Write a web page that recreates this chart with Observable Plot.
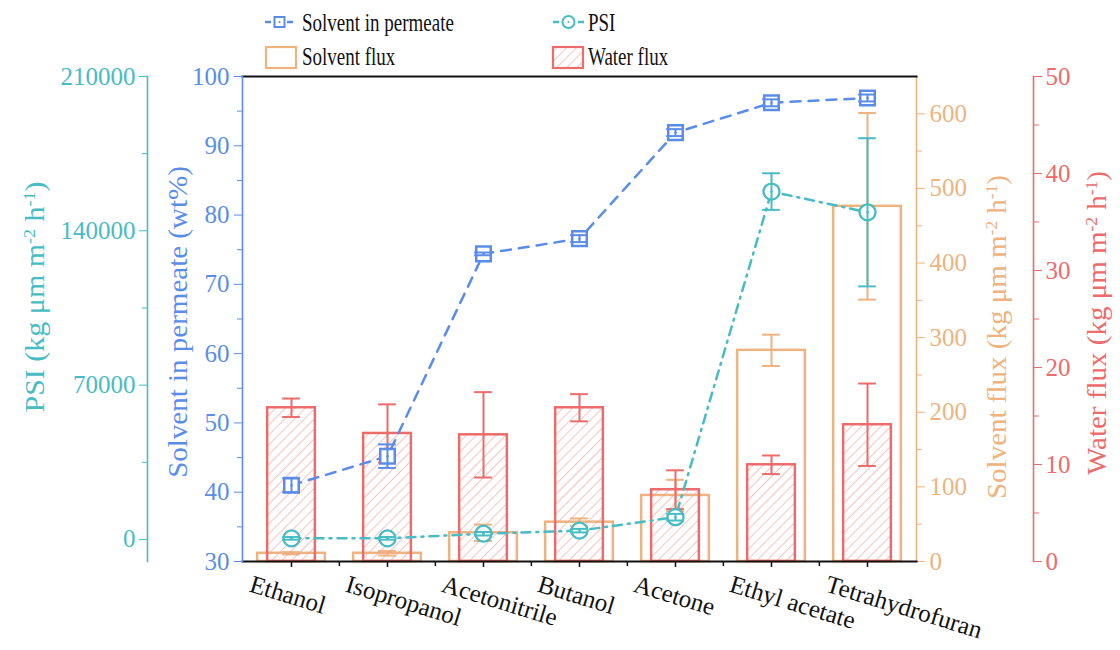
<!DOCTYPE html>
<html>
<head>
<meta charset="utf-8">
<script src="https://cdn.jsdelivr.net/npm/d3@7"></script>
<script src="https://cdn.jsdelivr.net/npm/@observablehq/plot@0.6"></script>
<style>
  body { margin: 0; background: #fff; }
  #chart { position: relative; width: 1120px; height: 650px; font-family: "Liberation Serif", "Times New Roman", serif; overflow: hidden; }
  #chart svg.layer { position: absolute; left: 0; top: 0; }
  .title { position: absolute; white-space: nowrap; font-size: 29px; line-height: 1; transform: translate(-50%, -50%) rotate(-90deg) scale(1, 0.92); }
  .title sup { font-size: 0.6em; vertical-align: 0.55em; line-height: 0; }
</style>
</head>
<body>
<svg width="0" height="0" style="position:absolute">
  <defs>
    <pattern id="hatch" patternUnits="userSpaceOnUse" width="7" height="7" patternTransform="rotate(45)">
      <line x1="0" y1="0" x2="0" y2="7" stroke="#ef9a9a" stroke-width="1.2"></line>
    </pattern>
  </defs>
</svg>
<div id="chart"></div>
<script>
// ---------- data ----------
const categories = ["Ethanol", "Isopropanol", "Acetonitrile", "Butanol", "Acetone", "Ethyl acetate", "Tetrahydrofuran"];
const solventInPermeate = [41.0, 45.2, 74.4, 76.6, 91.9, 96.2, 96.9];          // wt%
const solventInPermeateErr = [1.0, 1.7, 0.2, 0.5, 0.5, 0.5, 0.5];
const psi = [500, 500, 2600, 4000, 10100, 157800, 148400];                      // kg um m-2 h-1
const psiErr = [600, 600, 800, 800, 1500, 8300, 33600];
const solventFlux = [11, 11, 38.5, 52.7, 88.5, 283, 476];                       // kg um m-2 h-1
const solventFluxErr = [1.5, 3, 11, 5, 21, 21, 125];
const waterFlux = [15.85, 13.2, 13.06, 15.85, 7.4, 9.97, 14.1];                 // kg um m-2 h-1
const waterFluxErr = [0.95, 3.0, 4.4, 1.4, 2.0, 0.96, 4.25];

const spTicks = [30, 40, 50, 60, 70, 80, 90, 100];
const spMinor = [35, 45, 55, 65, 75, 85, 95];
const psiTicks = [0, 70000, 140000, 210000];
const psiMinor = [35000, 105000, 175000];
const sfTicks = [0, 100, 200, 300, 400, 500, 600];
const sfMinor = [50, 150, 250, 350, 450, 550];
const wfTicks = [0, 10, 20, 30, 40, 50];
const wfMinor = [5, 15, 25, 35, 45];

// ---------- styling ----------
const BLUE = "#5b8de8", CYAN = "#47bcc4", ORANGE = "#eeb37e", RED = "#ec6b6b";
const W = 1120, H = 650;
const MT = 76, MB = 89;
const X0 = 242, X1 = 916;
const bw = (X1 - X0) / categories.length;
const capInset = (bw - 18) / 2;
const FONT = "Liberation Serif, Times New Roman, serif";

const rows = categories.map((cat, i) => ({
  cat,
  sp: solventInPermeate[i], spErr: solventInPermeateErr[i],
  psi: psi[i], psiErr: psiErr[i],
  sf: solventFlux[i], sfErr: solventFluxErr[i],
  wf: waterFlux[i], wfErr: waterFluxErr[i]
}));

function layer({marginLeft, marginRight, y, marks, xAxis = false}) {
  const svg = Plot.plot({
    width: W, height: H,
    marginTop: MT, marginBottom: MB, marginLeft, marginRight,
    x: {type: "band", domain: categories, range: [X0, X1], padding: 0, ...(xAxis ? {} : {axis: null})},
    y: {...y},
    style: {background: "transparent", fontFamily: FONT, fontSize: "25px", overflow: "visible"},
    marks
  });
  svg.classList.add("layer");
  return svg;
}

function errorMarks(yKey, eKey, color) {
  return [
    Plot.ruleX(rows, {x: "cat", y1: d => d[yKey] - d[eKey], y2: d => d[yKey] + d[eKey], stroke: color, strokeWidth: 2}),
    Plot.tickY(rows, {x: "cat", y: d => d[yKey] + d[eKey], stroke: color, strokeWidth: 2, insetLeft: capInset, insetRight: capInset}),
    Plot.tickY(rows, {x: "cat", y: d => d[yKey] - d[eKey], stroke: color, strokeWidth: 2, insetLeft: capInset, insetRight: capInset})
  ];
}

const chart = document.getElementById("chart");

// Layer 1: solvent flux (orange, right axis at plot edge)
chart.appendChild(layer({
  marginLeft: X0, marginRight: W - X1,
  y: {domain: [0, 650]},
  marks: [
    Plot.barY(rows, {x: "cat", y: "sf", fill: "none", stroke: ORANGE, strokeWidth: 2.5, insetLeft: (bw - 68) / 2, insetRight: (bw - 68) / 2}),
    ...errorMarks("sf", "sfErr", ORANGE),
    Plot.frame({anchor: "right", stroke: ORANGE, strokeWidth: 1.6}),
    Plot.axisY(sfTicks, {anchor: "right", color: ORANGE, tickSize: 8, tickPadding: 5, label: null, fontSize: 25}),
    Plot.axisY(sfMinor, {anchor: "right", stroke: ORANGE, fill: "none", tickSize: 5, label: null})
  ]
}));

// Layer 2: water flux (red, far right axis)
chart.appendChild(layer({
  marginLeft: X0, marginRight: W - 1033,
  y: {domain: [0, 50]},
  marks: [
    Plot.barY(rows, {x: "cat", y: "wf", fill: "url(#hatch)", stroke: RED, strokeWidth: 2.5, insetLeft: (bw - 48) / 2, insetRight: (bw - 48) / 2}),
    ...errorMarks("wf", "wfErr", RED),
    Plot.frame({anchor: "right", stroke: RED, strokeWidth: 1.6}),
    Plot.axisY(wfTicks, {anchor: "right", color: RED, tickSize: 8, tickPadding: 4, label: null, fontSize: 25}),
    Plot.axisY(wfMinor, {anchor: "right", stroke: RED, fill: "none", tickSize: 5, label: null})
  ]
}));

// Layer 3: PSI (cyan, far left axis)
chart.appendChild(layer({
  marginLeft: 147, marginRight: W - X1,
  y: {domain: [-10000, 210000]},
  marks: [
    Plot.line(rows, {x: "cat", y: "psi", stroke: CYAN, strokeWidth: 2.5, strokeDasharray: "9,6,2,6"}),
    Plot.dot(rows, {x: "cat", y: "psi", r: 8, stroke: CYAN, fill: "white", strokeWidth: 2.3}),
    ...errorMarks("psi", "psiErr", CYAN),
    Plot.dot(rows, {x: "cat", y: "psi", r: 1.2, fill: CYAN}),
    Plot.frame({anchor: "left", stroke: CYAN, strokeWidth: 1.6}),
    Plot.axisY(psiTicks, {anchor: "left", color: CYAN, tickSize: 8, tickPadding: 4, label: null, fontSize: 25, tickFormat: d => String(d)}),
    Plot.axisY(psiMinor, {anchor: "left", stroke: CYAN, fill: "none", tickSize: 5, label: null})
  ]
}));

// Layer 4: solvent in permeate (blue, main left axis) + category axis
chart.appendChild(layer({
  marginLeft: X0, marginRight: W - X1, xAxis: true,
  y: {domain: [30, 100]},
  marks: [
    Plot.line(rows, {x: "cat", y: "sp", stroke: BLUE, strokeWidth: 2.5, strokeDasharray: "10,8"}),
    Plot.dot(rows, {x: "cat", y: "sp", symbol: "square", r: 8.2, stroke: BLUE, fill: "white", strokeWidth: 2.5}),
    ...errorMarks("sp", "spErr", BLUE),
    Plot.dot(rows, {x: "cat", y: "sp", r: 1.2, fill: BLUE}),
    Plot.frame({anchor: "top", stroke: "#111", strokeWidth: 2}),
    Plot.frame({anchor: "bottom", stroke: "#111", strokeWidth: 2}),
    Plot.frame({anchor: "left", stroke: BLUE, strokeWidth: 1.6}),
    Plot.axisY(spTicks, {anchor: "left", color: BLUE, tickSize: 8, tickPadding: 5, label: null, fontSize: 25}),
    Plot.axisY(spMinor, {anchor: "left", stroke: BLUE, fill: "none", tickSize: 5, label: null}),
    Plot.axisX(categories, {anchor: "bottom", stroke: "#111", fill: "none", tickSize: 6, strokeWidth: 1.5, label: null}),
    Plot.axisX(categories.slice(1), {anchor: "bottom", stroke: "#111", fill: "none", tickSize: 5, strokeWidth: 1.5, dx: -bw / 2, label: null}),
    Plot.text(categories, {x: d => d, text: d => d, frameAnchor: "bottom", textAnchor: "start", lineAnchor: "middle",
      rotate: 17, dx: -41, dy: 22, fontSize: 25, fill: "#111"})
  ]
}));

// ---------- axis titles ----------
const titles = [
  {html: "PSI (kg μm m<sup>-2</sup> h<sup>-1</sup>)", x: 35, y: 297, color: CYAN, size: 30},
  {html: "Solvent in permeate (wt%)", x: 178, y: 322, color: BLUE, size: 29},
  {html: "Solvent flux (kg μm m<sup>-2</sup> h<sup>-1</sup>)", x: 997, y: 337, color: ORANGE, size: 29},
  {html: "Water flux (kg μm m<sup>-2</sup> h<sup>-1</sup>)", x: 1097, y: 323, color: RED, size: 29}
];
for (const t of titles) {
  const d = document.createElement("div");
  d.className = "title";
  d.innerHTML = t.html;
  d.style.left = t.x + "px";
  d.style.top = t.y + "px";
  d.style.color = t.color;
  d.style.fontSize = t.size + "px";
  chart.appendChild(d);
}

// ---------- legend ----------
const legend = `
<svg class="layer" width="1120" height="76" style="position:absolute;left:0;top:0" font-family="${FONT}" font-size="25">
  <line x1="265" y1="22" x2="271" y2="22" stroke="${BLUE}" stroke-width="2.5"/>
  <line x1="287" y1="22" x2="293" y2="22" stroke="${BLUE}" stroke-width="2.5"/>
  <rect x="274.5" y="17" width="10" height="10" fill="white" stroke="${BLUE}" stroke-width="2"/>
  <circle cx="279.5" cy="22" r="1" fill="${BLUE}"/>
  <text transform="translate(302,31) scale(0.76,1)" fill="#111">Solvent in permeate</text>
  <line x1="553" y1="22" x2="559" y2="22" stroke="${CYAN}" stroke-width="2.5"/>
  <line x1="578" y1="22" x2="584" y2="22" stroke="${CYAN}" stroke-width="2.5"/>
  <circle cx="568.5" cy="22" r="6" fill="white" stroke="${CYAN}" stroke-width="2"/>
  <circle cx="568.5" cy="22" r="1" fill="${CYAN}"/>
  <text transform="translate(588,31) scale(0.76,1)" fill="#111">PSI</text>
  <rect x="266" y="47" width="30" height="21" fill="none" stroke="${ORANGE}" stroke-width="2.2"/>
  <text transform="translate(302,65) scale(0.76,1)" fill="#111">Solvent flux</text>
  <rect x="553" y="47" width="30" height="21" fill="url(#hatch)" stroke="${RED}" stroke-width="2.2"/>
  <text transform="translate(588,65) scale(0.76,1)" fill="#111">Water flux</text>
</svg>`;
chart.insertAdjacentHTML("beforeend", legend);
</script>
</body>
</html>
